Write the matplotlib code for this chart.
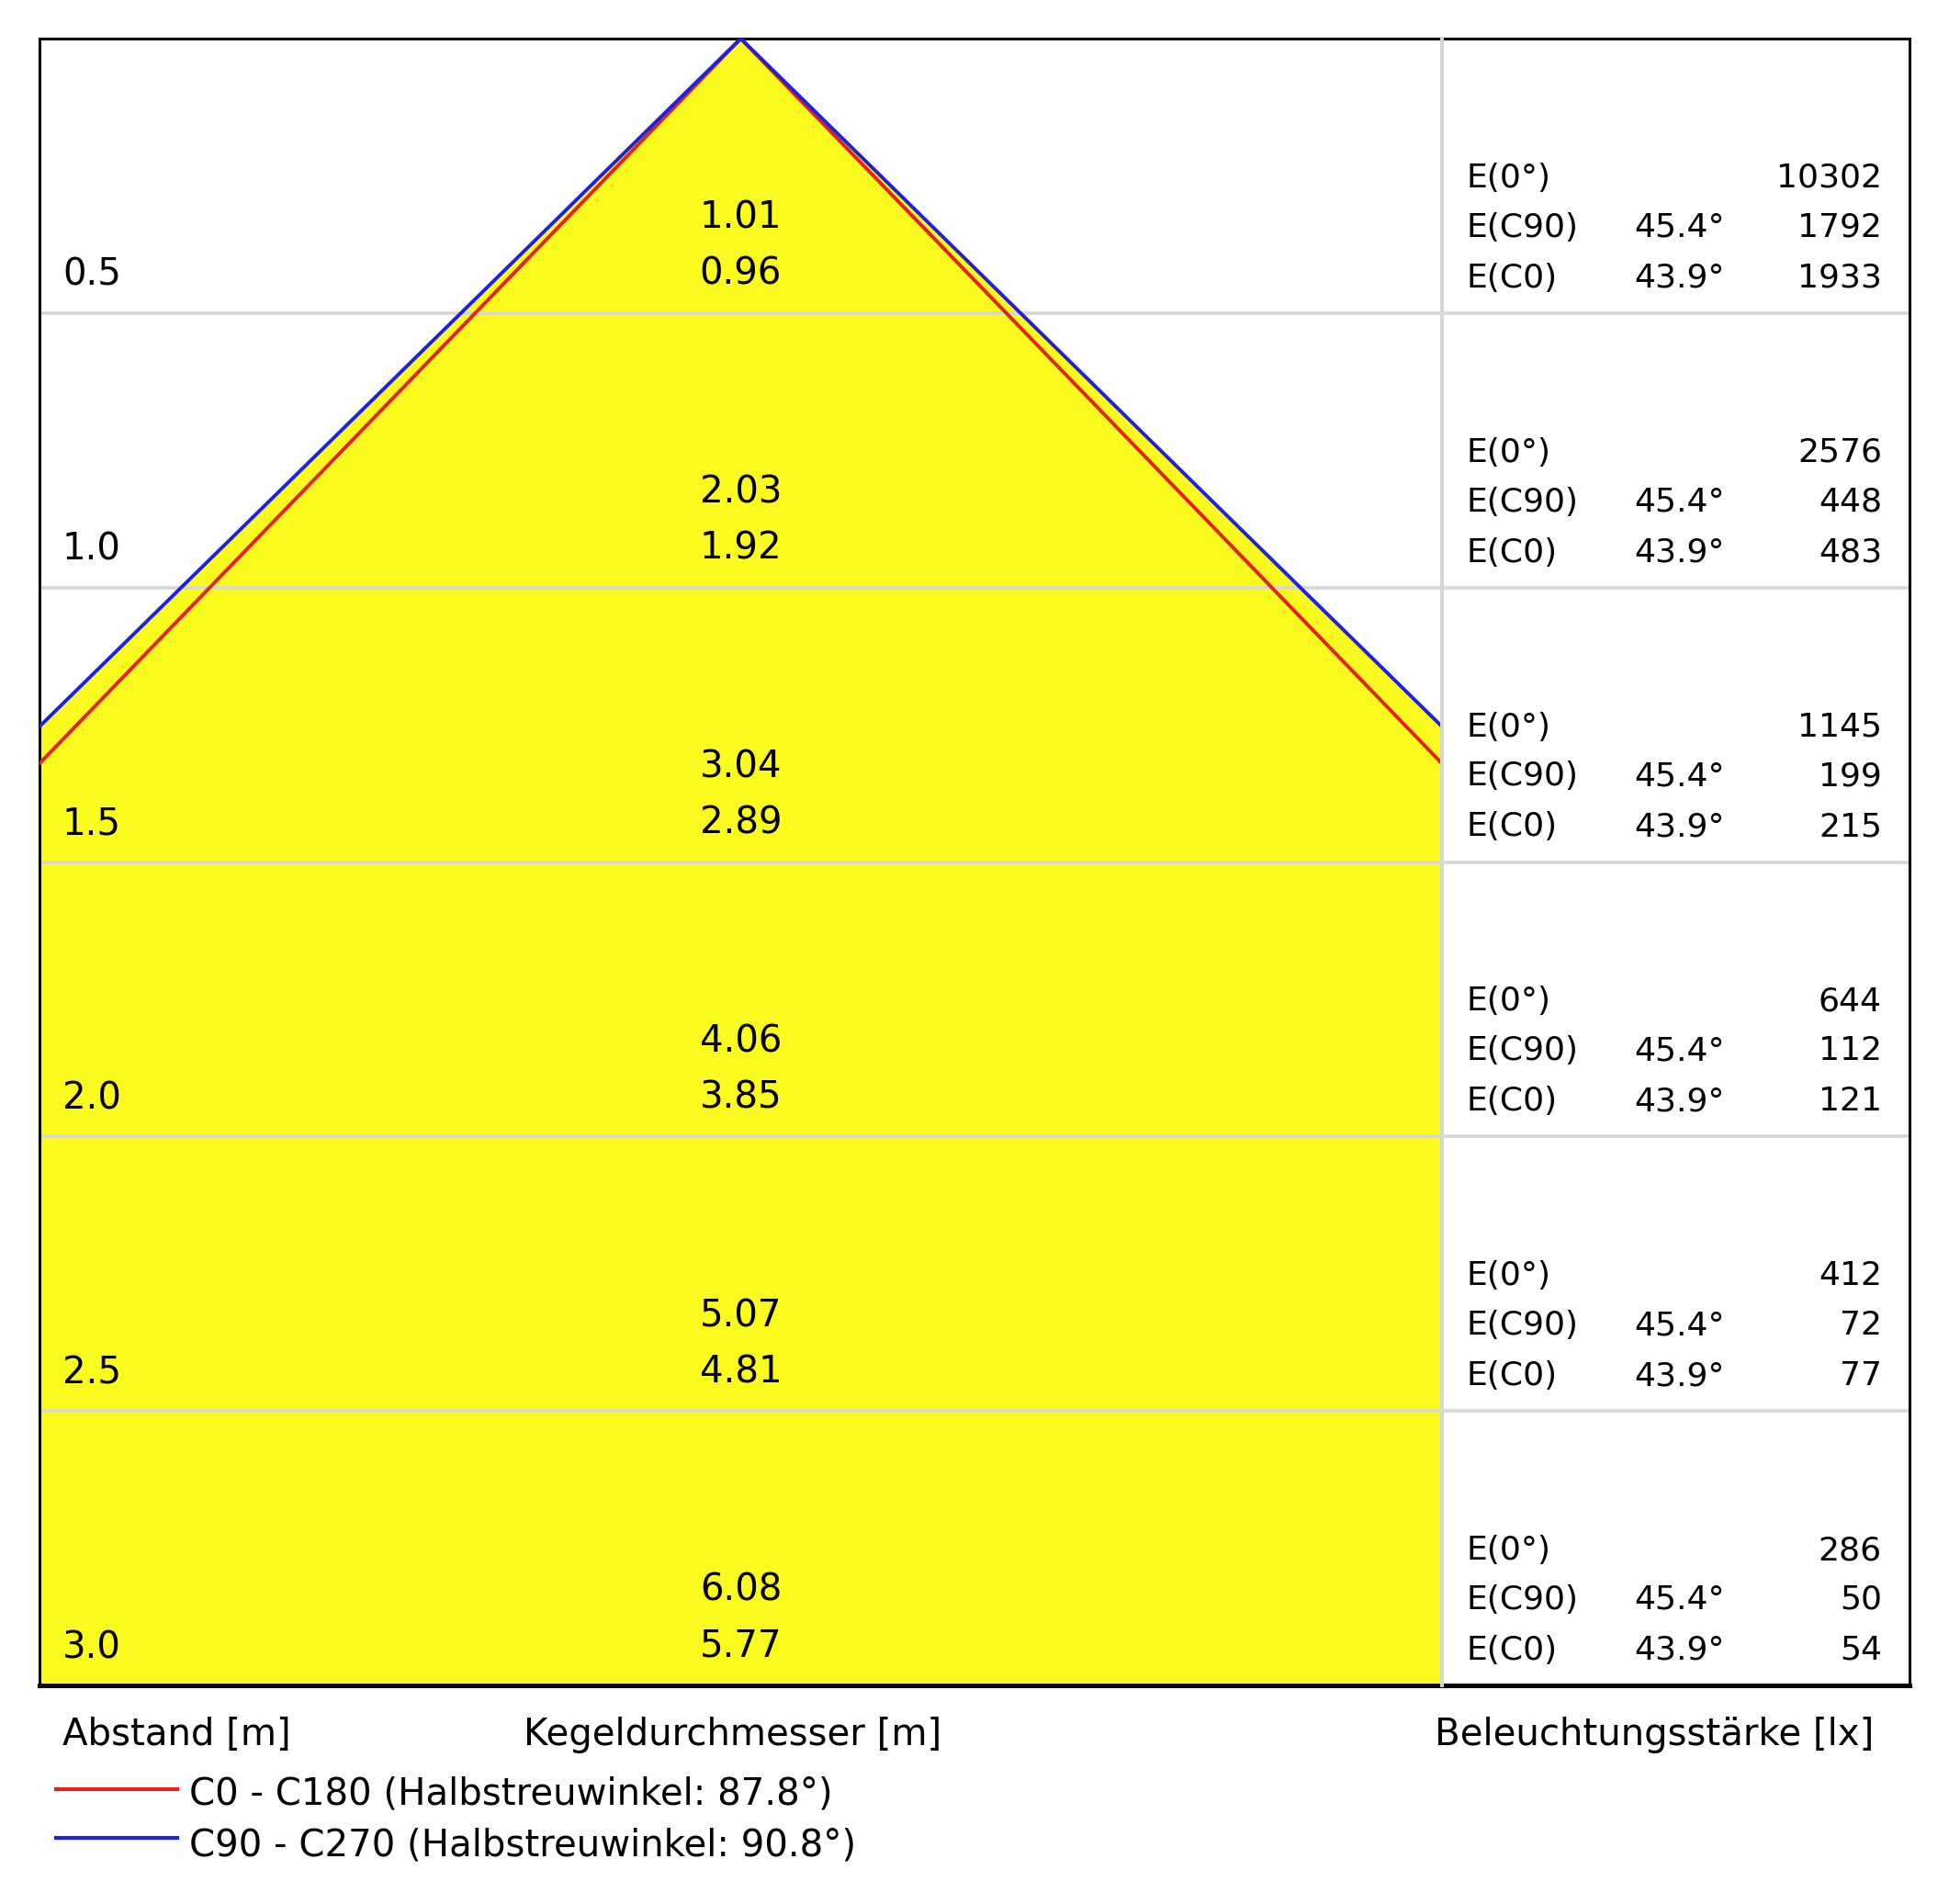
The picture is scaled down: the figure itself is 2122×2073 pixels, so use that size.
import matplotlib
matplotlib.use("Agg")
import matplotlib.pyplot as plt
import numpy as np

# ~  Data

depths = [0.5, 1.0, 1.5, 2.0, 2.5, 3.0]
diam_c90 = [1.01, 2.03, 3.04, 4.06, 5.07, 6.08]
diam_c0 = [0.96, 1.92, 2.89, 3.85, 4.81, 5.77]
e_0 = [10302, 2576, 1145, 644, 412, 286]
e_c90 = [1792, 448, 199, 112, 72, 50]
e_c0 = [1933, 483, 215, 121, 77, 54]
angle_c90 = "45.4°"
angle_c0 = "43.9°"
legend_labels = ["C0 - C180 (Halbstreuwinkel: 87.8°)",
                 "C90 - C270 (Halbstreuwinkel: 90.8°)"]

yellow = "#FAFA1E"
red = "#E4211E"
blue = "#2020E0"
grey = "#D6D6D6"

plt.rcParams['font.family'] = ['DejaVu Sans']

W, H = 2122, 2073
fig = plt.figure(figsize=(W / 100, H / 100), dpi=100)

# box in pixels
left, right, top, bottom, divider = 43, 2079, 42, 1835, 1570

def px_rect(x0, x1, y0, y1):
    return [x0 / W, 1 - y1 / H, (x1 - x0) / W, (y1 - y0) / H]

ax = fig.add_axes(px_rect(left, divider, top, bottom))
tax = fig.add_axes(px_rect(divider, right, top, bottom))

half_w = 1.27
ax.set_xlim(-half_w, half_w)
for a in (ax, tax):
    a.set_ylim(3.0, 0.0)
    a.set_xticks([])
    a.set_yticks([])
tax.set_xlim(0, 1)

# cone: lines through apex and the outermost diameter
r90 = diam_c90[-1] / 2
r0 = diam_c0[-1] / 2
d_max = depths[-1]
ax.fill([-r90, 0, r90], [d_max, 0, d_max], color=yellow, lw=0, zorder=1)
ax.plot([-r0, 0, r0], [d_max, 0, d_max], color=red, lw=2.8, zorder=3,
        solid_joinstyle='miter')
ax.plot([-r90, 0, r90], [d_max, 0, d_max], color=blue, lw=2.8, zorder=4,
        solid_joinstyle='miter')

for d in depths[:-1]:
    ax.axhline(d, color=grey, lw=2.6, zorder=2)
    tax.axhline(d, color=grey, lw=2.6, zorder=2)

# spines
for a in (ax, tax):
    for s in a.spines.values():
        s.set_color('black')
        s.set_linewidth(2.2)
    a.spines['bottom'].set_linewidth(3.6)
ax.spines['right'].set_visible(False)
tax.spines['left'].set_color(grey)
tax.spines['left'].set_linewidth(2.8)
tax.spines['left'].set_zorder(10)

lab_fs = 29
tab_fs = 26

ytr = ax.get_yaxis_transform()
for i, d in enumerate(depths):
    ax.text(0.0163, d - 0.050, f"{d:.1f}", transform=ytr, fontsize=lab_fs,
            ha='left', va='baseline', zorder=5)
    ax.text(0, d - 0.154, f"{diam_c90[i]:.2f}", fontsize=lab_fs,
            ha='center', va='baseline', zorder=5)
    ax.text(0, d - 0.052, f"{diam_c0[i]:.2f}", fontsize=lab_fs,
            ha='center', va='baseline', zorder=5)

    tax.text(0.053, d - 0.229, "E(0°)", fontsize=tab_fs, ha='left', va='baseline')
    tax.text(0.941, d - 0.229, f"{e_0[i]}", fontsize=tab_fs, ha='right', va='baseline')
    tax.text(0.053, d - 0.139, "E(C90)", fontsize=tab_fs, ha='left', va='baseline')
    tax.text(0.411, d - 0.139, angle_c90, fontsize=tab_fs, ha='left', va='baseline')
    tax.text(0.941, d - 0.139, f"{e_c90[i]}", fontsize=tab_fs, ha='right', va='baseline')
    tax.text(0.053, d - 0.047, "E(C0)", fontsize=tab_fs, ha='left', va='baseline')
    tax.text(0.411, d - 0.047, angle_c0, fontsize=tab_fs, ha='left', va='baseline')
    tax.text(0.941, d - 0.047, f"{e_c0[i]}", fontsize=tab_fs, ha='right', va='baseline')

# captions under the box
fig.text(68 / W, 0.0835, "Abstand [m]", fontsize=lab_fs, ha='left', va='baseline')
fig.text(570 / W, 0.0835, "Kegeldurchmesser [m]", fontsize=lab_fs, ha='left', va='baseline')
fig.text(1562 / W, 0.0835, "Beleuchtungsstärke [lx]", fontsize=lab_fs, ha='left', va='baseline')

# legend
for lab, col, ly, ty in zip(legend_labels, [red, blue], [0.0605, 0.0345], [0.0522, 0.0255]):
    fig.add_artist(plt.Line2D([61 / W, 193 / W], [ly, ly], color=col, lw=3.0,
                              transform=fig.transFigure))
    fig.text(206 / W, ty, lab, fontsize=lab_fs, ha='left', va='baseline')

fig.savefig("out.png", dpi=100, facecolor='white')
